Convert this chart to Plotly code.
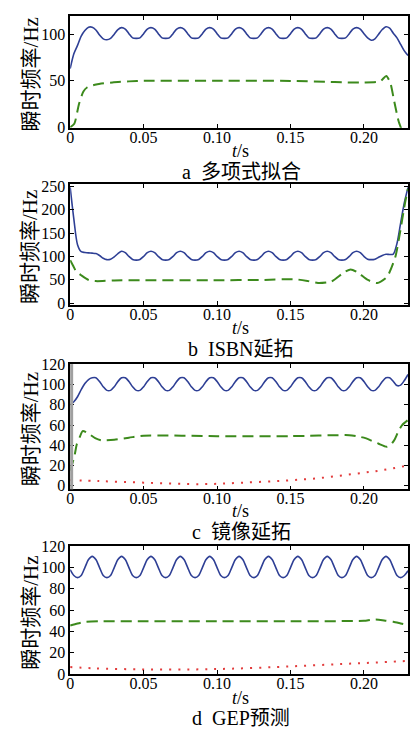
import plotly.graph_objects as go

W, H = 410, 736
FONT = "Liberation Serif, Noto Sans CJK SC, serif"
BLUE = "#2e3f95"
GREEN = "#3c8a1c"
RED = "#e23b3b"

# sample times of the dense (oscillating) curves, 0 .. 0.23 s
t_fine = [round(0.0025 * i, 4) for i in range(93)]

x_ticks = [0, 0.05, 0.10, 0.15, 0.20]
x_tick_text = ["0", "0.05", "0.10", "0.15", "0.20"]

# ---- panel a : polynomial fit ----
a_blue = [63, 79, 88, 98, 104, 107.5, 107.5, 104.5, 99, 95, 94, 95.5, 100, 105,
          107, 105.5, 100.5, 96, 95.5, 96, 100.5, 105.5,
          107, 105.5, 100.5, 96, 95.5, 96, 100.5, 105.5,
          107, 105.5, 100.5, 96, 95.5, 96, 100.5, 105.5,
          107, 105.5, 100.5, 96, 95.5, 96, 100.5, 105.5,
          107, 105.5, 100.5, 96, 95.5, 96, 100.5, 105.5,
          107, 105.5, 100.5, 96, 95.5, 96, 100.5, 105.5,
          107, 105.5, 100.5, 96, 95.5, 96, 100.5, 105.5,
          107, 105.5, 100.5, 96, 95.5, 96, 100.5, 105.5,
          107, 105.5, 100.5, 96, 93.5, 95, 100, 105, 108, 106.5, 101, 96, 89, 82, 77]
a_green_t = [0, 0.0028, 0.006, 0.009, 0.0117, 0.0177, 0.0288, 0.04, 0.05, 0.1, 0.15,
             0.18, 0.2, 0.211, 0.2152, 0.218, 0.2206, 0.2235, 0.2255]
a_green = [0, 3.7, 25, 38.5, 43, 46, 48.2, 49.3, 50, 50, 49.8,
           48.5, 48, 49.3, 55, 47.5, 28, 7, -2]
a_yticks = [0, 50, 100]

# ---- panel b : ISBN extension ----
b_blue = [248, 180, 125, 110, 108.5, 107.5, 107, 106, 102, 96, 93, 94, 99, 106,
          111, 108, 100, 93.5, 92, 93.5, 100, 108,
          111, 108, 100, 93.5, 92, 93.5, 100, 108,
          111, 108, 100, 93.5, 92, 93.5, 100, 108,
          111, 108, 100, 93.5, 92, 93.5, 100, 108,
          111, 108, 100, 93.5, 92, 93.5, 100, 108,
          111, 108, 100, 93.5, 92, 93.5, 100, 108,
          111, 108, 100, 93.5, 92, 93.5, 100, 108,
          111, 108, 100, 93.5, 92, 93.5, 100, 108,
          111, 108, 100, 94, 93, 94, 98, 102, 104.5, 104, 105, 128, 172, 215, 248]
b_green_t = [0, 0.002, 0.004, 0.0077, 0.0127, 0.0177, 0.03, 0.05, 0.1, 0.13, 0.153,
             0.162, 0.1687, 0.1777, 0.1866, 0.191, 0.196, 0.2023, 0.209, 0.2157,
             0.2213, 0.2246, 0.228, 0.23]
b_green = [92, 80, 68, 59, 49, 47, 48.5, 49, 49, 49.5, 51,
           47, 43, 46, 66, 72, 65, 50, 43, 56,
           98, 152, 215, 245]
b_yticks = [0, 50, 100, 150, 200, 250]

# ---- panel c : mirror extension ----
c_blue = [80, 83, 88, 95, 101, 105,
          106.7, 106.7, 103.1, 97.9, 94.3, 94.3, 97.9, 103.1,
          106.7, 106.7, 103.1, 97.9, 94.3, 94.3, 97.9, 103.1,
          106.7, 106.7, 103.1, 97.9, 94.3, 94.3, 97.9, 103.1,
          106.7, 106.7, 103.1, 97.9, 94.3, 94.3, 97.9, 103.1,
          106.7, 106.7, 103.1, 97.9, 94.3, 94.3, 97.9, 103.1,
          106.7, 106.7, 103.1, 97.9, 94.3, 94.3, 97.9, 103.1,
          106.7, 106.7, 103.1, 97.9, 94.3, 94.3, 97.9, 103.1,
          106.7, 106.7, 103.1, 97.9, 94.3, 94.3, 97.9, 103.1,
          106.7, 106.7, 103.1, 97.9, 94.3, 94.3, 97.9, 103.1,
          106.7, 106.7, 103.1, 97.9, 94.3, 94.3, 97.9, 103.1,
          106.7, 106.7, 103.1, 99, 99.5, 104, 110]
c_green_t = [0, 0.0015, 0.003, 0.0045, 0.0065, 0.0085, 0.012, 0.017, 0.021, 0.03, 0.04,
             0.05, 0.1, 0.15, 0.19, 0.195, 0.201, 0.206, 0.21, 0.2155, 0.218, 0.221,
             0.2235, 0.226, 0.23]
c_green = [15, 22, 30, 41, 48, 54, 52, 47, 45, 45.5, 47.5,
           49.5, 49, 49, 50, 49, 47, 44, 41.5, 38.5, 40, 46,
           54, 60, 65]
c_red_t = [0, 0.02, 0.05, 0.09, 0.116, 0.146, 0.171, 0.193, 0.211, 0.23]
c_red = [5.5, 4.5, 3, 1.5, 2.9, 5, 7.7, 11.6, 15, 20]
c_yticks = [0, 20, 40, 60, 80, 100, 120]

# ---- panel d : GEP prediction ----
d_blue = [98,
          92.5, 90.5, 92.5, 100, 107.5, 110.5, 107.5, 100,
          92.5, 90.5, 92.5, 100, 107.5, 110.5, 107.5, 100,
          92.5, 90.5, 92.5, 100, 107.5, 110.5, 107.5, 100,
          92.5, 90.5, 92.5, 100, 107.5, 110.5, 107.5, 100,
          92.5, 90.5, 92.5, 100, 107.5, 110.5, 107.5, 100,
          92.5, 90.5, 92.5, 100, 107.5, 110.5, 107.5, 100,
          92.5, 90.5, 92.5, 100, 107.5, 110.5, 107.5, 100,
          92.5, 90.5, 92.5, 100, 107.5, 110.5, 107.5, 100,
          92.5, 90.5, 92.5, 100, 107.5, 110.5, 107.5, 100,
          92.5, 90.5, 92.5, 100, 107.5, 110.5, 107.5, 100,
          92.5, 90.5, 92.5, 100, 107.5, 110.5, 107.5, 100,
          92.5, 90.5, 92.5, 97]
d_green_t = [0, 0.005, 0.01, 0.02, 0.05, 0.1, 0.15, 0.2, 0.205, 0.21, 0.215, 0.22, 0.225, 0.23]
d_green = [45.5, 47.5, 49, 49.6, 49.6, 49.6, 49.6, 50, 51, 51, 50, 49, 47.5, 46]
d_red_t = [0, 0.017, 0.05, 0.084, 0.11, 0.14, 0.164, 0.187, 0.207, 0.23]
d_red = [6.5, 5.3, 4.3, 4.3, 5, 6.5, 8, 9.5, 10.7, 12.3]
d_yticks = [0, 20, 40, 60, 80, 100, 120]

y_title = "瞬时频率/Hz"
captions = ["a  多项式拟合", "b  ISBN延拓", "c  镜像延拓", "d  GEP预测"]

# layout geometry (pixels)
X_LEFT, X_RIGHT = 67, 409
panels = [
    dict(blue=a_blue, gt=a_green_t, gv=a_green, rt=None, rv=None, yr=[-0.6, 119.7],
         yt=a_yticks, top=8, bot=122.5, ts=146, cap=168),
    dict(blue=b_blue, gt=b_green_t, gv=b_green, rt=None, rv=None, yr=[-4, 255],
         yt=b_yticks, top=180, bot=303.5, ts=327, cap=349),
    dict(blue=c_blue, gt=c_green_t, gv=c_green, rt=c_red_t, rv=c_red, yr=[-3.6, 120.3],
         yt=c_yticks, top=364, bot=492, ts=514, cap=536),
    dict(blue=d_blue, gt=d_green_t, gv=d_green, rt=d_red_t, rv=d_red, yr=[-0.2, 120.2],
         yt=d_yticks, top=550, bot=681, ts=705, cap=726),
]


def py(p):
    return 1 - p / H


fig = go.Figure()
layout = dict(width=W, height=H, margin=dict(l=0, r=0, t=0, b=0),
              paper_bgcolor="white", plot_bgcolor="white", showlegend=False,
              font=dict(family=FONT, color="black"))
annotations = []
shapes = []

for k, p in enumerate(panels):
    n = "" if k == 0 else str(k + 1)
    xa, ya = "x" + n, "y" + n
    fig.add_trace(go.Scatter(x=t_fine, y=p["blue"], mode="lines", xaxis=xa, yaxis=ya,
                             line=dict(color=BLUE, width=1.6, shape="spline", smoothing=0.8)))
    fig.add_trace(go.Scatter(x=p["gt"], y=p["gv"], mode="lines", xaxis=xa, yaxis=ya,
                             line=dict(color=GREEN, width=2, dash="11px,6px", shape="spline", smoothing=0.6)))
    if p["rt"] is not None:
        fig.add_trace(go.Scatter(x=p["rt"], y=p["rv"], mode="lines", xaxis=xa, yaxis=ya,
                                 line=dict(color=RED, width=2, dash="2px,7px", shape="spline")))
    common = dict(showline=True, linecolor="black", linewidth=1.5, mirror="ticks",
                  ticks="inside", ticklen=4, tickwidth=1.2, tickcolor="black",
                  showgrid=False, zeroline=False,
                  tickfont=dict(family=FONT, size=16, color="black"))
    layout["xaxis" + n] = dict(common, domain=[X_LEFT / W, X_RIGHT / W], range=[0, 0.23],
                               tickvals=x_ticks, ticktext=x_tick_text, anchor=ya,
                               ticklabelstandoff=-6)
    layout["yaxis" + n] = dict(common, domain=[py(p["bot"]), py(p["top"])], range=p["yr"],
                               tickvals=p["yt"], anchor=xa)
    mid = (p["top"] + p["bot"]) / 2 + 3
    annotations.append(dict(x=27 / W, y=py(mid), xref="paper", yref="paper", text=y_title,
                            textangle=-90, showarrow=False, xanchor="center", yanchor="middle",
                            font=dict(family=FONT, size=21, color="black")))
    annotations.append(dict(x=239 / W, y=py(p["ts"]), xref="paper", yref="paper",
                            text="<i>t</i>/s", showarrow=False, xanchor="center", yanchor="middle",
                            borderpad=0, font=dict(family=FONT, size=18, color="black")))
    annotations.append(dict(x=240 / W, y=py(p["cap"]), xref="paper", yref="paper",
                            text=captions[k], showarrow=False, xanchor="center", yanchor="middle",
                            borderpad=0, font=dict(family=FONT, size=20, color="black")))
    if k == 2:
        shapes.append(dict(type="line", xref="paper", yref="paper",
                           x0=68.5 / W, x1=68.5 / W, y0=py(p["bot"]), y1=py(p["top"]),
                           line=dict(color="#a0a0a0", width=3), layer="above"))

layout["annotations"] = annotations
layout["shapes"] = shapes
fig.update_layout(**layout)
fig.write_html("out.html", config={"displayModeBar": False},
               post_script="document.body.style.margin='0px';document.body.style.overflow='hidden';")
